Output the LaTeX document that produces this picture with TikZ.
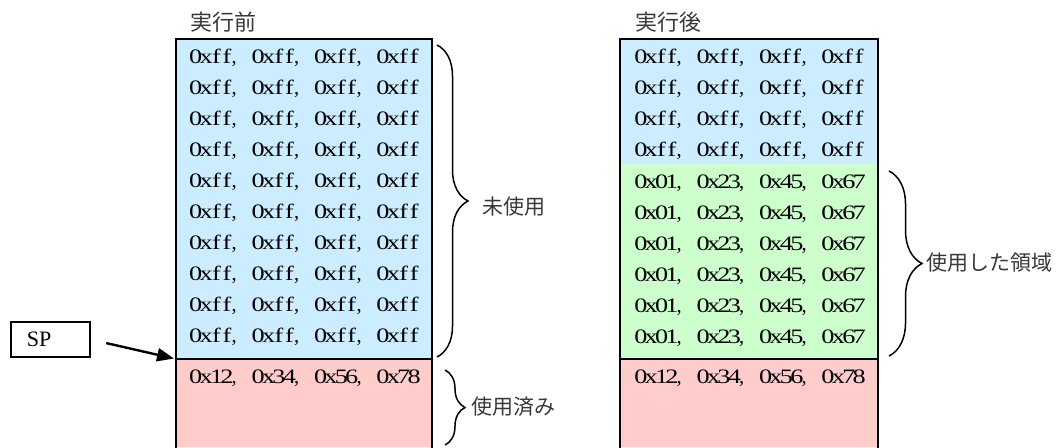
\documentclass[tikz,border=0pt]{standalone}
\usepackage{fontspec}
\usepackage{graphicx}
\newfontfamily\jp{Noto Sans CJK JP}
\newfontfamily\hexfont{Liberation Serif}
\usetikzlibrary{decorations.pathreplacing,arrows.meta}
\definecolor{memblue}{HTML}{CCECFF}
\definecolor{mempink}{HTML}{FFCCCC}
\definecolor{memgreen}{HTML}{CCFFCC}
\newcommand\mcell[1]{\makebox[10.4pt][c]{\scalebox{1.28}[1]{#1}}}
\newcommand\mcomma{\makebox[10.4pt][l]{\hspace{-0.5pt},}}
\newcommand\hexw[4]{\mcell{#1}\mcell{#2}\mcell{#3}\mcell{#4}}
\newcommand\hexrow[4]{\hexw#1\mcomma\mcell{}\hexw#2\mcomma\mcell{}\hexw#3\mcomma\mcell{}\hexw#4}
\begin{document}
\begin{tikzpicture}[x=1pt,y=-1pt,
  region/.style={inner sep=0pt,outer sep=0pt,draw=none,anchor=north west},
  wall/.style={line width=2.4pt,line cap=rect},
  hex/.style={inner sep=0pt,anchor=base,font=\hexfont\fontsize{20.5pt}{24pt}\selectfont},
  jlabel/.style={inner sep=0pt,anchor=west,text=black!78,font=\jp\fontsize{21pt}{26pt}\selectfont},
  jtitle/.style={jlabel,font=\jp\fontsize{22pt}{26pt}\selectfont},
  brc/.style={decorate,line width=1.5pt},
  ptr/.style={line width=2.4pt,-{Triangle[length=17pt,width=13pt]}},
  spbox/.style={draw,line width=1.3pt,inner sep=0pt,minimum width=79pt,minimum height=35pt,font=\hexfont\fontsize{22pt}{26pt}\selectfont}]
\useasboundingbox (0,0) rectangle (1056,447);
% left column
\node[region,fill=memblue,minimum width=256pt,minimum height=320pt] (lblue) at (176,39) {};
\node[region,fill=mempink,minimum width=256pt,minimum height=88pt] (lpink) at (176,359) {};
\draw[wall] (lpink.south west) -- (lblue.north west) -- (lblue.north east) -- (lpink.south east);
\draw[wall] (lblue.south west) -- (lblue.south east);
% right column
\node[region,fill=memblue,minimum width=258pt,minimum height=125pt] (rblue) at (620,39) {};
\node[region,fill=memgreen,minimum width=258pt,minimum height=195pt] (rgreen) at (620,164) {};
\node[region,fill=mempink,minimum width=258pt,minimum height=88pt] (rpink) at (620,359) {};
\draw[wall] (rpink.south west) -- (rblue.north west) -- (rblue.north east) -- (rpink.south east);
\draw[wall] (rgreen.south west) -- (rgreen.south east);
% titles
\node[jtitle] (tbefore) at (190,22.5) {実行前};
\node[jtitle] (tafter) at (635,22.5) {実行後};
% left rows
\foreach \k in {0,...,9}
  \node[hex] (lrow\k) at (305,{63+31*\k}) {\hexrow{0xff}{0xff}{0xff}{0xff}};
\node[hex] (lrowp) at (305,383) {\hexrow{0x12}{0x34}{0x56}{0x78}};
% right rows
\foreach \k in {0,...,3}
  \node[hex] (rrow\k) at (750,{63+31*\k}) {\hexrow{0xff}{0xff}{0xff}{0xff}};
\foreach \k in {4,...,9}
  \node[hex] (rrow\k) at (750,{64+31*\k}) {\hexrow{0x01}{0x23}{0x45}{0x67}};
\node[hex] (rrowp) at (750,383) {\hexrow{0x12}{0x34}{0x56}{0x78}};
% braces
\coordinate (b1a) at (437,45); \coordinate (b1b) at (437,357);
\draw[brc,decoration={brace,amplitude=31pt}] (b1a) -- (b1b);
\node[jlabel] (unused) at (482,207) {未使用};
\coordinate (b2a) at (445,370); \coordinate (b2b) at (445,445);
\draw[brc,decoration={brace,amplitude=20pt}] (b2a) -- (b2b);
\node[jlabel] (usedb) at (471,407) {使用済み};
\coordinate (b3a) at (889,171); \coordinate (b3b) at (889,356);
\draw[brc,decoration={brace,amplitude=33pt}] (b3a) -- (b3b);
\node[jlabel] (useda) at (926,263) {使用した領域};
% SP
\node[spbox] (sp) at (50.5,339.5) {\makebox[79pt][l]{\hspace{16pt}SP}};
\draw[ptr,shorten <=16pt,shorten >=2pt] (sp.east) -- (lblue.south west);
\end{tikzpicture}
\end{document}
